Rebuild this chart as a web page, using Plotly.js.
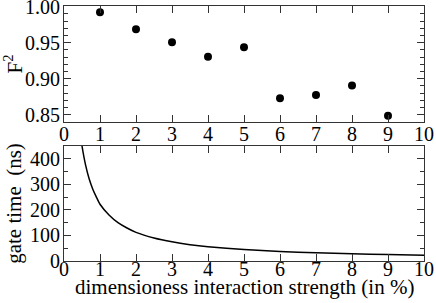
<!DOCTYPE html>
<html>
<head>
<meta charset="utf-8">
<script src="https://cdn.plot.ly/plotly-3.0.1.min.js"></script>
<style>html,body{margin:0;padding:0;background:#fff;}#chart{width:436px;height:303px;}</style>
</head>
<body>
<div id="chart"></div>
<script>
// Top panel: fidelity squared vs interaction strength
var strength = [1, 2, 3, 4, 5, 6, 7, 8, 9];
var fidelitySq = [0.992, 0.9685, 0.9505, 0.9305, 0.9437, 0.8730, 0.8775, 0.8905, 0.8486];

// Bottom panel: gate time curve
var gateX = [0.45, 0.5, 0.6, 0.7, 0.8, 0.9, 1.0, 1.25, 1.5, 1.75, 2, 2.5, 3, 3.5, 4, 5, 6, 7, 8, 9, 10];
var gateTime = [500, 450, 375, 321, 281, 250, 222, 180, 150, 129, 112, 90, 75, 64, 56, 45, 37.5, 32, 28, 25, 22.5];

var xTicks = [0, 1, 2, 3, 4, 5, 6, 7, 8, 9, 10];
var fTicks = [0.85, 0.90, 0.95, 1.00];
var gTicks = [0, 100, 200, 300, 400];
var xTitle = 'dimensioness interaction strength (in %)';

var FONT = 'Liberation Serif';
var LC = '#333';
var TF = {family: FONT, size: 21, color: '#000'};

function axisBase() {
  return {
    showgrid: false, zeroline: false, showline: true, mirror: 'allticks',
    linecolor: LC, linewidth: 1, ticks: 'inside', ticklen: 7, tickcolor: LC, tickwidth: 1,
    ticklabeloverflow: 'allow',
    tickfont: {family: FONT, size: 20, color: '#000'}
  };
}

var traces = [
  {x: strength, y: fidelitySq, type: 'scatter', mode: 'markers', xaxis: 'x', yaxis: 'y',
   marker: {color: '#000', size: 8}, showlegend: false},
  {x: gateX, y: gateTime, type: 'scatter', mode: 'lines', xaxis: 'x2', yaxis: 'y2',
   line: {color: '#000', width: 1.5, shape: 'spline', smoothing: 0.6}, showlegend: false}
];

var xa = axisBase();
Object.assign(xa, {range: [0, 10], tickvals: xTicks, ticktext: xTicks.map(String), anchor: 'y', domain: [0, 1],
  ticklabelstandoff: -6});
var xa2 = axisBase();
Object.assign(xa2, {range: [0, 10], tickvals: xTicks, ticktext: xTicks.map(String), anchor: 'y2', domain: [0, 1],
  ticklabelstandoff: -10});
var ya = axisBase();
Object.assign(ya, {range: [0.84, 1.0008], tickvals: fTicks, ticktext: fTicks.map(function(v){return v.toFixed(2);}),
  domain: [0.545, 1], anchor: 'x', ticklabelstandoff: -1,
  minor: {ticks: 'inside', ticklen: 4, dtick: 0.01, tick0: 0.84, tickcolor: LC},
  title: {text: 'F<sup>2</sup>', font: TF, standoff: 2}});
var ya2 = axisBase();
Object.assign(ya2, {range: [0, 450], tickvals: gTicks, ticktext: gTicks.map(String),
  domain: [0, 0.451], anchor: 'x2', ticklabelstandoff: -1,
  minor: {ticks: 'inside', ticklen: 4, dtick: 50, tick0: 0, tickcolor: LC},
  title: {text: 'gate time  (ns)', font: TF, standoff: 2}});

var layout = {
  width: 436, height: 303,
  font: {family: FONT, size: 20, color: '#000'},
  margin: {l: 64, r: 12, t: 6, b: 42},
  paper_bgcolor: '#fff', plot_bgcolor: '#fff',
  xaxis: xa, xaxis2: xa2, yaxis: ya, yaxis2: ya2,
  annotations: [{text: xTitle, xref: 'paper', yref: 'paper', x: 0.5, y: 0, xanchor: 'center', yanchor: 'middle',
    yshift: -26, showarrow: false, font: TF}],
  showlegend: false
};

Plotly.newPlot('chart', traces, layout, {displayModeBar: false, staticPlot: true});
</script>
</body>
</html>
